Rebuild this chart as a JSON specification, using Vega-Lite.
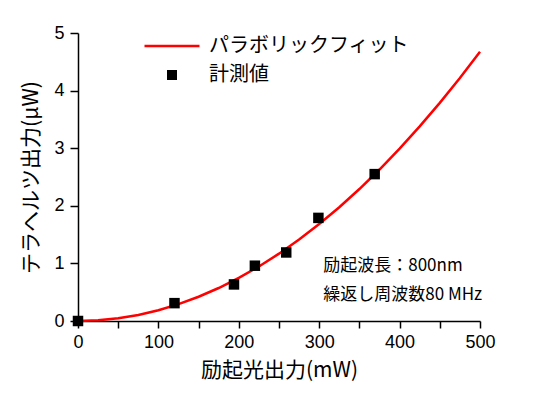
{
  "$schema": "https://vega.github.io/schema/vega-lite/v6.json",
  "width": 402,
  "height": 288,
  "autosize": {"type": "none"},
  "padding": {"left": 78, "top": 33, "right": 70, "bottom": 78},
  "background": "white",
  "config": {"view": {"stroke": null}, "font": "Liberation Sans"},
  "datasets": {
    "fit": [
      {"power": 0, "thz": 0, "series": "パラボリックフィット"},
      {"power": 25, "thz": 0.012, "series": "パラボリックフィット"},
      {"power": 50, "thz": 0.047, "series": "パラボリックフィット"},
      {"power": 75, "thz": 0.105, "series": "パラボリックフィット"},
      {"power": 100, "thz": 0.187, "series": "パラボリックフィット"},
      {"power": 125, "thz": 0.292, "series": "パラボリックフィット"},
      {"power": 150, "thz": 0.421, "series": "パラボリックフィット"},
      {"power": 175, "thz": 0.573, "series": "パラボリックフィット"},
      {"power": 200, "thz": 0.748, "series": "パラボリックフィット"},
      {"power": 225, "thz": 0.947, "series": "パラボリックフィット"},
      {"power": 250, "thz": 1.169, "series": "パラボリックフィット"},
      {"power": 275, "thz": 1.414, "series": "パラボリックフィット"},
      {"power": 300, "thz": 1.683, "series": "パラボリックフィット"},
      {"power": 325, "thz": 1.975, "series": "パラボリックフィット"},
      {"power": 350, "thz": 2.291, "series": "パラボリックフィット"},
      {"power": 375, "thz": 2.63, "series": "パラボリックフィット"},
      {"power": 400, "thz": 2.992, "series": "パラボリックフィット"},
      {"power": 425, "thz": 3.378, "series": "パラボリックフィット"},
      {"power": 450, "thz": 3.787, "series": "パラボリックフィット"},
      {"power": 475, "thz": 4.219, "series": "パラボリックフィット"},
      {"power": 500, "thz": 4.675, "series": "パラボリックフィット"}
    ],
    "measured": [
      {"power": 0, "thz": 0, "series": "計測値"},
      {"power": 120, "thz": 0.31, "series": "計測値"},
      {"power": 194, "thz": 0.635, "series": "計測値"},
      {"power": 220, "thz": 0.96, "series": "計測値"},
      {"power": 259, "thz": 1.19, "series": "計測値"},
      {"power": 299, "thz": 1.79, "series": "計測値"},
      {"power": 369, "thz": 2.55, "series": "計測値"}
    ],
    "notes": [
      {"power": 305, "thz": 0.95, "label": "励起波長：800nm"},
      {"power": 305, "thz": 0.45, "label": "繰返し周波数80 MHz"}
    ]
  },
  "layer": [
    {
      "data": {"name": "fit"},
      "mark": {"type": "line", "strokeWidth": 2.5, "color": "#ff0000"},
      "encoding": {
        "x": {
          "field": "power", "type": "quantitative",
          "scale": {"domain": [0, 500], "nice": false, "zero": false},
          "title": "励起光出力(mW)",
          "axis": {
            "values": [0, 50, 100, 150, 200, 250, 300, 350, 400, 450, 500],
            "labelExpr": "datum.value % 100 === 0 ? format(datum.value, 'd') : ''",
            "grid": false,
            "domainColor": "black", "domainWidth": 1.5,
            "tickColor": "black", "tickWidth": 1.5, "tickSize": 7,
            "labelFontSize": 18, "labelColor": "black", "labelPadding": 5, "labelFlush": false,
            "titleFont": "Noto Sans CJK JP", "titleFontSize": 21, "titleFontWeight": "normal",
            "titleColor": "black", "titlePadding": 8,
            "encode": {"ticks": {"update": {"y2": {"signal": "datum.value % 100 === 0 ? 7 : 4"}}}}
          }
        },
        "y": {
          "field": "thz", "type": "quantitative",
          "scale": {"domain": [0, 5], "nice": false, "zero": false},
          "title": "テラヘルツ出力(μW)",
          "axis": {
            "values": [0, 0.5, 1, 1.5, 2, 2.5, 3, 3.5, 4, 4.5, 5],
            "labelExpr": "datum.value % 1 === 0 ? format(datum.value, 'd') : ''",
            "grid": false,
            "domainColor": "black", "domainWidth": 1.5,
            "tickColor": "black", "tickWidth": 1.5, "tickSize": 8,
            "labelFontSize": 18, "labelColor": "black", "labelPadding": 6,
            "labelFlush": false,
            "titleFont": "Noto Sans CJK JP", "titleFontSize": 21, "titleFontWeight": "normal",
            "titleColor": "black", "titlePadding": 12,
            "encode": {"ticks": {"update": {"x2": {"signal": "datum.value % 1 === 0 ? -8 : -5"}}}}
          }
        },
        "color": {
          "field": "series", "type": "nominal",
          "scale": {"domain": ["パラボリックフィット", "計測値"], "range": ["#ff0000", "#000000"]},
          "legend": {
            "orient": "none", "legendX": 84, "legendY": 3,
            "title": null,
            "labelFont": "Noto Sans CJK JP", "labelFontSize": 20, "labelColor": "black",
            "labelOffset": 27, "labelLimit": 400,
            "symbolSize": 400, "symbolStrokeWidth": 2.5,
            "rowPadding": 9,
            "encode": {
              "symbols": {
                "update": {
                  "shape": {"signal": "datum.value === '計測値' ? 'square' : 'M-2.75,0H2.75'"},
                  "size": {"signal": "datum.value === '計測値' ? 100 : 400"},
                  "fill": {"signal": "datum.value === '計測値' ? 'black' : 'transparent'"},
                  "stroke": {"signal": "datum.value === '計測値' ? 'black' : '#ff0000'"},
                  "strokeWidth": {"signal": "datum.value === '計測値' ? 0 : 2.5"}
                }
              }
            }
          }
        }
      }
    },
    {
      "data": {"name": "measured"},
      "mark": {"type": "square", "size": 110, "opacity": 1, "clip": false},
      "encoding": {
        "x": {"field": "power", "type": "quantitative", "title": "励起光出力(mW)"},
        "y": {"field": "thz", "type": "quantitative", "title": "テラヘルツ出力(μW)"},
        "color": {"field": "series", "type": "nominal"}
      }
    },
    {
      "data": {"name": "notes"},
      "mark": {"type": "text", "align": "left", "baseline": "middle", "fontSize": 17, "font": "Noto Sans CJK JP", "color": "black"},
      "encoding": {
        "x": {"field": "power", "type": "quantitative", "title": "励起光出力(mW)"},
        "y": {"field": "thz", "type": "quantitative", "title": "テラヘルツ出力(μW)"},
        "text": {"field": "label"}
      }
    }
  ]
}
